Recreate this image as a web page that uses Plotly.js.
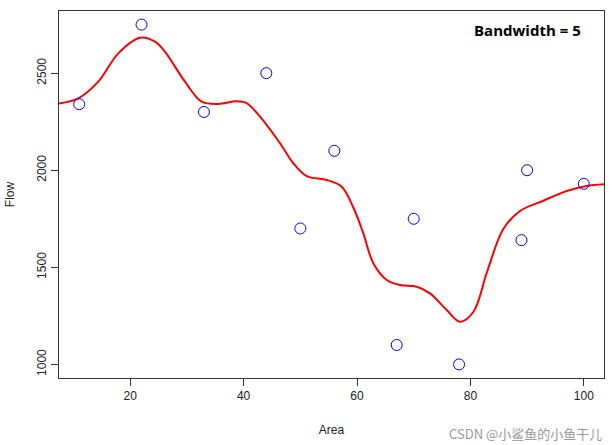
<!DOCTYPE html>
<html>
<head>
<meta charset="utf-8">
<script src="https://cdn.plot.ly/plotly-3.0.1.min.js"></script>
<style>html,body{margin:0;padding:0;background:#fff;}#chart{width:612px;height:445px;}</style>
</head>
<body>
<div id="chart"></div>
<script>
// Observed data points
const area = [11, 22, 33, 44, 50, 56, 67, 70, 78, 89, 90, 100];
const flow = [2340, 2750, 2300, 2500, 1700, 2100, 1100, 1750, 1000, 1640, 2000, 1930];

// Kernel smoother curve (bandwidth = 5)
const smoothX = [7.44, 10.84, 14.37, 17.9, 21.73, 24.37, 26.14, 29.66, 32.61, 35.54, 38.78, 40.54, 42.89, 46.42, 48.76, 51.13, 54.65, 57.3, 59.35, 61.11, 62.87, 65.24, 67.58, 70.53, 72.87, 75.82, 78.16, 80.51, 82.93, 85.8, 88.75, 92.86, 96.98, 100.51, 103.56];
const smoothY = [2344, 2370, 2456, 2602, 2682, 2662, 2610, 2456, 2353, 2341, 2355, 2345, 2276, 2139, 2036, 1970, 1950, 1915, 1808, 1675, 1521, 1435, 1409, 1400, 1366, 1280, 1220, 1270, 1476, 1697, 1790, 1843, 1893, 1919, 1928];

const xTicks = [20, 40, 60, 80, 100];
const yTicks = [1000, 1500, 2000, 2500];

const traces = [
  {x: smoothX, y: smoothY, type: 'scatter', mode: 'lines',
   line: {color: 'red', width: 2, shape: 'spline', smoothing: 1}, hoverinfo: 'skip'},
  {x: area, y: flow, type: 'scatter', mode: 'markers',
   marker: {symbol: 'circle-open', size: 11, color: 'blue', line: {width: 1, color: 'blue'}}}
];

const font = {family: 'Liberation Sans, Arial, sans-serif', size: 12, color: '#222'};
const layout = {
  width: 612, height: 445,
  margin: {l: 59, r: 8, t: 11, b: 67},
  paper_bgcolor: '#fff', plot_bgcolor: '#fff',
  showlegend: false,
  font: font,
  xaxis: {
    range: [7.44, 103.56], tickvals: xTicks, ticktext: xTicks.map(String),
    showgrid: false, zeroline: false, showline: true, mirror: true,
    linecolor: '#333', linewidth: 1, ticks: 'outside', ticklen: 7, tickcolor: '#333',
    tickfont: font,
    title: {text: 'Area', font: font, standoff: 23}
  },
  yaxis: {
    range: [930, 2820], tickvals: yTicks, ticktext: yTicks.map(String), tickangle: -90,
    showgrid: false, zeroline: false, showline: true, mirror: true,
    linecolor: '#333', linewidth: 1, ticks: 'outside', ticklen: 7, tickcolor: '#333',
    tickfont: font,
    title: {text: 'Flow', font: font, standoff: 18}
  },
  annotations: [
    {xref: 'paper', yref: 'paper', x: 0.962, y: 0.982, xanchor: 'right', yanchor: 'top',
     text: '<b>Bandwidth = 5</b>', showarrow: false,
     font: {family: 'Open Sans, Lato, sans-serif', size: 15, color: '#000'}},
    {xref: 'paper', yref: 'paper', x: 1.0, y: -0.15, xanchor: 'right', yanchor: 'middle',
     text: 'CSDN @小鲨鱼的小鱼干儿', showarrow: false,
     font: {family: 'Noto Sans CJK SC, sans-serif', size: 13, color: '#999'}}
  ]
};

Plotly.newPlot('chart', traces, layout, {displayModeBar: false, staticPlot: true});
</script>
</body>
</html>
